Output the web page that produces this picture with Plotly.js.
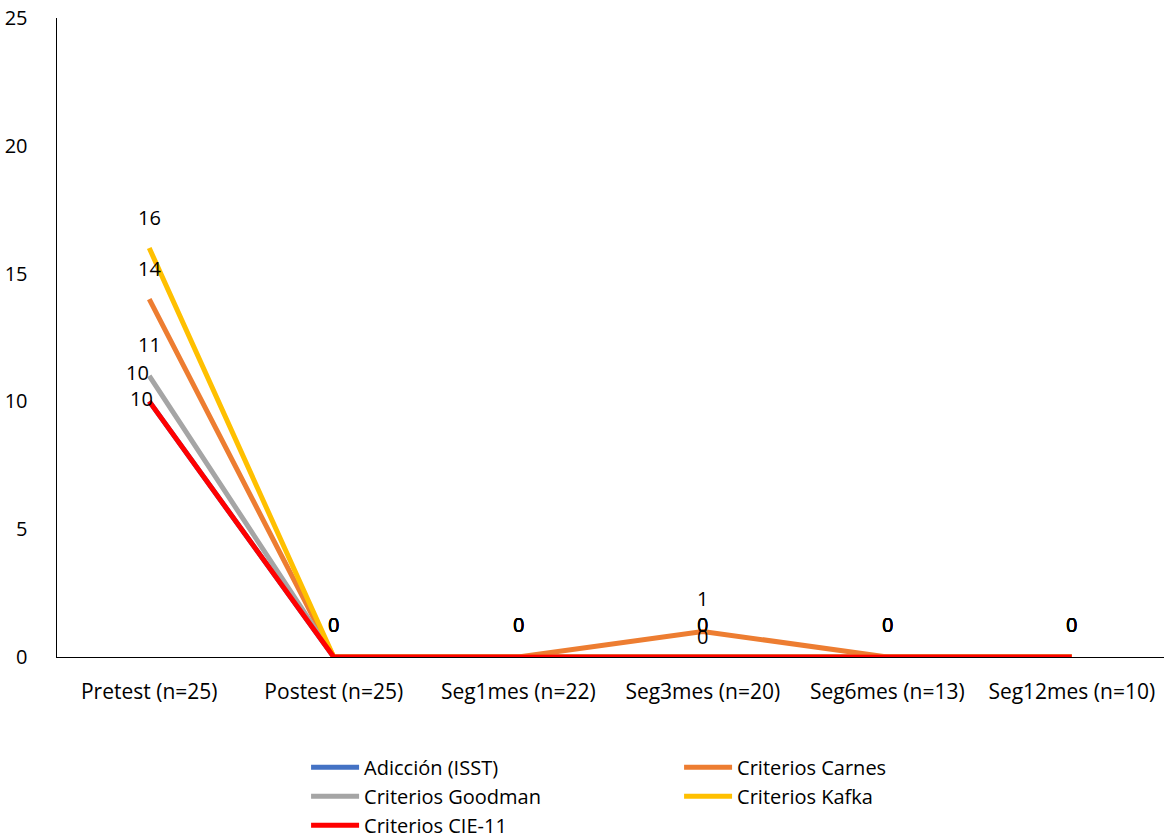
<!DOCTYPE html>
<html>
<head>
<meta charset="utf-8">
<script src="https://cdn.plot.ly/plotly-3.0.1.min.js"></script>
<style>html,body{margin:0;padding:0;background:#fff;}#chart{width:1164px;height:840px;}</style>
</head>
<body>
<div id="chart"></div>
<script>
const categories = ["Pretest (n=25)", "Postest (n=25)", "Seg1mes (n=22)", "Seg3mes (n=20)", "Seg6mes (n=13)", "Seg12mes (n=10)"];
const seriesNames = ["Adicción (ISST)", "Criterios Carnes", "Criterios Goodman", "Criterios Kafka", "Criterios CIE-11"];
const adiccion = [10, 0, 0, 0, 0, 0];
const carnes = [14, 0, 0, 1, 0, 0];
const goodman = [11, 0, 0, 0, 0, 0];
const kafka = [16, 0, 0, 0, 0, 0];
const cie11 = [10, 0, 0, 0, 0, 0];
const yTicks = [0, 5, 10, 15, 20, 25];

const seriesValues = [adiccion, carnes, goodman, kafka, cie11];
const colors = ["#4472C4", "#ED7D31", "#A5A5A5", "#FFC000", "#FF0000"];
const FONT = "'Open Sans', 'Liberation Sans', sans-serif";

const traces = seriesValues.map((vals, i) => ({
  type: "scatter",
  mode: "lines",
  name: seriesNames[i],
  x: categories,
  y: vals,
  line: {color: colors[i], width: 5},
  hoverinfo: "x+y+name"
}));

// label offsets per series at first point (styling only)
const firstShift = [[-12, 29], [0, 31], [0, 31], [0, 31], [-8, 3]];
const annotations = [];
seriesValues.forEach((vals, i) => {
  vals.forEach((v, j) => {
    let xs = 0, ys = 33;
    if (j === 0) { xs = firstShift[i][0]; ys = firstShift[i][1]; }
    if (j === 3 && i === 0) { ys = 21; }
    annotations.push({
      x: categories[j], y: v, xref: "x", yref: "y",
      text: String(v), showarrow: false,
      xshift: xs, yshift: ys,
      font: {family: FONT, size: 20, color: "#000"}
    });
  });
});

const layout = {
  width: 1164, height: 840,
  margin: {l: 57, r: 0, t: 18, b: 183, autoexpand: false},
  paper_bgcolor: "#fff", plot_bgcolor: "#fff",
  font: {family: FONT, size: 20, color: "#000"},
  showlegend: true,
  xaxis: {
    type: "category",
    range: [-0.5, 5.5],
    showgrid: false, zeroline: false,
    showline: true, linecolor: "#000", linewidth: 1,
    ticks: "", ticklabelstandoff: 16,
    tickfont: {family: FONT, size: 21, color: "#000"},
    fixedrange: true
  },
  yaxis: {
    range: [0, 25],
    tickvals: yTicks,
    showgrid: false, zeroline: false,
    showline: true, linecolor: "#000", linewidth: 1.5,
    ticks: "", ticklabelstandoff: 24,
    tickfont: {family: FONT, size: 20, color: "#000"},
    fixedrange: true
  },
  legend: {
    orientation: "h",
    x: 0.225, xanchor: "left",
    y: -0.142, yanchor: "top",
    entrywidth: 310, entrywidthmode: "pixels",
    itemwidth: 48,
    font: {family: FONT, size: 20, color: "#000"},
    bgcolor: "rgba(0,0,0,0)"
  },
  annotations: annotations
};

Plotly.newPlot("chart", traces, layout, {displayModeBar: false, staticPlot: true});
</script>
</body>
</html>
